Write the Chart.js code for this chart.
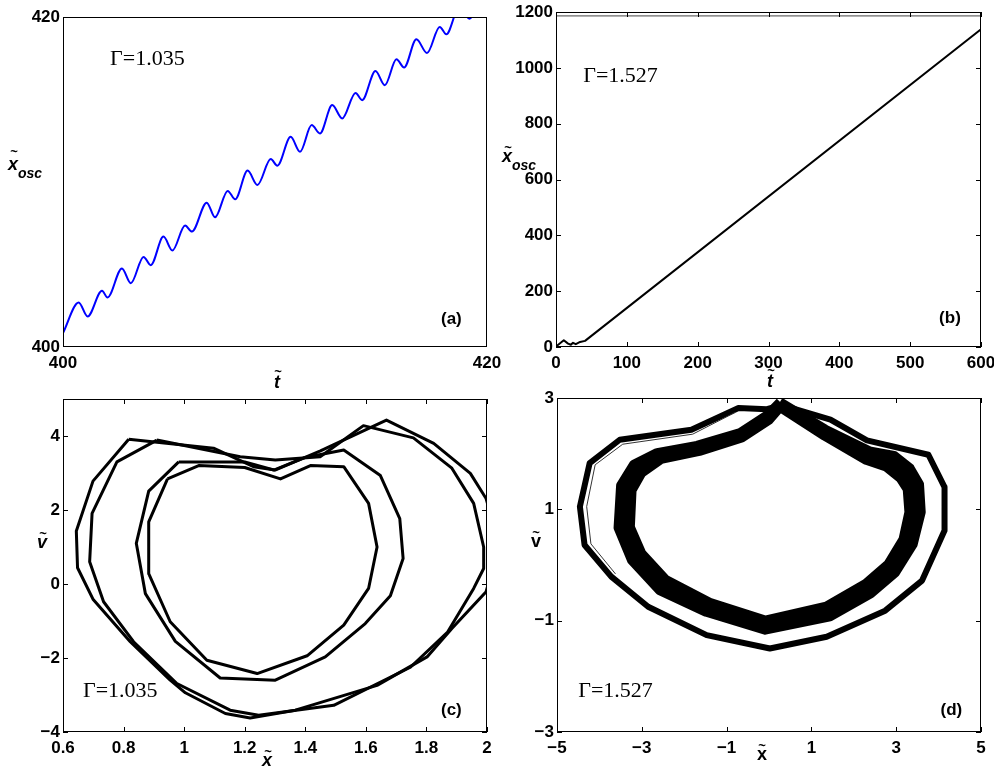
<!DOCTYPE html>
<html>
<head>
<meta charset="utf-8">
<script src="https://cdn.jsdelivr.net/npm/chart.js@4.4.0/dist/chart.umd.min.js"></script>
<style>
    body { margin: 0; background: #fff; width: 994px; height: 769px; overflow: hidden; position: relative; }
    canvas { position: absolute; }
</style>
</head>
<body>
<canvas id="pa"></canvas>
<canvas id="pb"></canvas>
<canvas id="pc"></canvas>
<canvas id="pd"></canvas>
<script>
// (a) x_osc against t, Gamma = 1.035
const timeA = [400.00, 400.74, 401.16, 401.84, 402.10, 402.78, 403.20, 403.80, 404.14, 404.74, 405.16, 405.76, 406.08,
    406.78, 407.17, 407.77, 408.12, 408.71, 409.17, 409.80, 410.11, 410.74, 411.18, 411.73, 412.12, 412.70, 413.17,
    413.80, 414.11, 414.74, 415.18, 415.73, 416.09, 416.67, 417.17, 417.77, 418.08, 418.70, 419.17, 419.70];
const xoscA = [400.85, 402.70, 401.85, 403.41, 403.00, 404.76, 403.87, 405.46, 404.96, 406.69, 405.85, 407.36, 407.00,
    408.75, 407.86, 409.46, 408.95, 410.69, 409.82, 411.39, 410.99, 412.74, 411.83, 413.45, 412.94, 414.66, 413.85,
    415.40, 414.96, 416.73, 415.87, 417.44, 416.94, 418.65, 417.82, 419.40, 418.95, 420.62, 419.90, 421.30];
const ticksA = [400, 420];

// (b) x_osc against t, Gamma = 1.527
const timeB = [0, 4, 11, 17, 21, 24, 28, 34, 41, 600];
const xoscB = [2, 10, 24, 12, 8, 15, 10, 18, 22, 1138];
const ceilTimeB = [0, 600];
const ceilXoscB = [1186, 1186];
const ticksBx = [0, 100, 200, 300, 400, 500, 600];
const ticksBy = [0, 200, 400, 600, 800, 1000, 1200];

// (c) phase portrait, Gamma = 1.035
const loopC1x = [0.817, 0.699, 0.644, 0.648, 0.699, 0.822, 0.954, 1.004, 1.136, 1.218, 1.367, 1.637, 1.802, 1.884, 1.997, 2.040, 1.997, 1.945, 1.824, 1.668, 1.450, 1.300, 1.229, 1.097, 0.817];
const loopC1v = [3.91, 2.78, 1.43, 0.44, -0.41, -1.56, -2.60, -2.94, -3.50, -3.62, -3.41, -2.74, -1.97, -1.20, -0.21, 1.05, 2.31, 2.99, 3.80, 4.43, 3.60, 3.08, 3.17, 3.67, 3.91];
const loopC2x = [0.910, 0.778, 0.696, 0.688, 0.734, 0.833, 0.976, 1.152, 1.246, 1.494, 1.747, 1.870, 1.956, 1.989, 1.989, 1.956, 1.884, 1.757, 1.592, 1.449, 1.301, 1.185, 0.910];
const loopC2v = [3.89, 3.30, 1.91, 0.60, -0.48, -1.56, -2.69, -3.41, -3.55, -3.28, -2.25, -1.30, -0.12, 0.42, 1.00, 2.18, 3.13, 3.95, 4.28, 3.44, 3.35, 3.44, 3.89];
const loopC3x = [0.982, 0.883, 0.842, 0.872, 0.971, 1.119, 1.301, 1.466, 1.598, 1.681, 1.723, 1.712, 1.648, 1.527, 1.400, 1.296, 1.200, 0.982];
const loopC3v = [3.30, 2.51, 1.10, -0.26, -1.55, -2.54, -2.60, -1.97, -1.07, -0.32, 0.69, 1.77, 2.93, 3.62, 3.42, 3.08, 3.30, 3.30];
const loopC4x = [0.945, 0.883, 0.883, 0.954, 1.075, 1.241, 1.406, 1.527, 1.609, 1.637, 1.609, 1.527, 1.417, 1.318, 1.200, 1.048, 0.945];
const loopC4v = [2.84, 1.68, 0.28, -1.02, -2.06, -2.42, -1.94, -1.11, -0.12, 1.00, 2.18, 3.17, 3.20, 2.84, 3.15, 3.20, 2.84];
const ticksCx = [0.6, 0.8, 1, 1.2, 1.4, 1.6, 1.8, 2];
const ticksCy = [-4, -2, 0, 2, 4];

// (d) phase portrait, Gamma = 1.527
const loopD1x = [0.30, 1.45, 2.31, 3.76, 4.14, 4.14, 3.61, 2.74, 1.36, 0.02, -1.47, -2.85, -3.72, -4.35, -4.46, -4.23, -3.52, -1.83, -0.72, -0.05, 0.30];
const loopD1v = [2.87, 2.61, 2.24, 1.98, 1.40, 0.62, -0.28, -0.82, -1.29, -1.50, -1.26, -0.75, -0.21, 0.36, 1.05, 1.83, 2.25, 2.43, 2.82, 2.80, 2.87];
const strayD1x = [-0.80, -1.80, -3.45, -4.10, -4.30, -4.20, -3.62];
const strayD1v = [2.74, 2.35, 2.17, 1.80, 1.05, 0.38, -0.16];
const bandOutX = [0.26, 1.33, 2.37, 2.95, 3.33, 3.55, 3.59, 3.40, 2.98, 2.40, 1.44, -0.09, -1.48, -2.58, -3.24, -3.56, -3.50, -3.19, -2.64, -1.70, -0.68, -0.02, 0.26];
const bandOutV = [2.93, 2.44, 2.05, 1.97, 1.74, 1.45, 0.95, 0.37, -0.14, -0.52, -0.93, -1.17, -0.85, -0.46, 0.08, 0.67, 1.43, 1.81, 2.02, 2.15, 2.38, 2.71, 2.93];
const bandMidX = [0.26, 1.33, 2.34, 2.86, 3.21, 3.41, 3.45, 3.28, 2.90, 2.34, 1.40, -0.09, -1.44, -2.51, -3.12, -3.42, -3.37, -3.10, -2.59, -1.67, -0.66, -0.01, 0.26];
const bandMidV = [2.88, 2.38, 1.98, 1.87, 1.65, 1.41, 0.95, 0.42, -0.06, -0.43, -0.84, -1.08, -0.76, -0.36, 0.15, 0.68, 1.39, 1.73, 1.96, 2.10, 2.33, 2.66, 2.88];
const bandInX = [0.26, 1.30, 2.29, 2.76, 3.09, 3.26, 3.30, 3.16, 2.81, 2.28, 1.35, -0.09, -1.40, -2.43, -3.00, -3.27, -3.23, -3.00, -2.54, -1.64, -0.64, 0.00, 0.26];
const bandInV = [2.83, 2.32, 1.88, 1.76, 1.56, 1.36, 0.95, 0.46, 0.02, -0.33, -0.74, -0.99, -0.67, -0.26, 0.21, 0.68, 1.34, 1.65, 1.90, 2.04, 2.28, 2.60, 2.83];
const ticksDx = [-5, -3, -1, 1, 3, 5];
const ticksDy = [-3, -1, 1, 3];

const SANS = '"Liberation Sans", Arial, Helvetica, sans-serif';
const SERIF = '"Liberation Serif", "Times New Roman", serif';
Chart.defaults.color = '#000';
Chart.defaults.font.family = SANS;

const pts = (xs, ys) => xs.map((x, i) => ({ x: x, y: ys[i] }));
const fmt = v => String(Math.round(v * 100) / 100).replace('-', '\u2212');

function line(xs, ys, color, width, extra) {
    return Object.assign({
        data: pts(xs, ys), showLine: true, pointRadius: 0, borderColor: color,
        borderWidth: width, fill: false, clip: 0, borderJoinStyle: 'round'
    }, extra || {});
}

// letter with a tilde above it, optionally followed by a subscript
function accentLabel(ctx, t, x, y) {
    ctx.textBaseline = 'alphabetic';
    ctx.font = t.font;
    let w = ctx.measureText(t.text).width;
    let left = t.center ? x - w / 2 : x;
    ctx.textAlign = 'left';
    ctx.fillText(t.text, left, y);
    ctx.font = 'bold 13px ' + SANS;
    ctx.textAlign = 'center';
    ctx.textBaseline = 'middle';
    ctx.fillText('~', left + w / 2 + (t.slant || 0), y - t.tOff);
    if (t.sub) {
        ctx.font = t.subFont;
        ctx.textAlign = 'left';
        ctx.textBaseline = 'alphabetic';
        ctx.fillText(t.sub, left + w, y + t.subDy);
    }
}

const decoPlugin = {
    id: 'deco',
    afterDraw(chart, args, o) {
        const ctx = chart.ctx, a = chart.chartArea;
        ctx.save();
        ctx.strokeStyle = '#000';
        ctx.lineWidth = 1;
        ctx.strokeRect(a.left + 0.5, a.top + 0.5, a.width - 1, a.height - 1);

        if (o.inTicks) {
            const len = 5;
            ctx.beginPath();
            chart.scales.x.ticks.forEach(t => {
                const px = Math.round(chart.scales.x.getPixelForValue(t.value)) + 0.5;
                ctx.moveTo(px, a.bottom); ctx.lineTo(px, a.bottom - len);
                ctx.moveTo(px, a.top); ctx.lineTo(px, a.top + len);
            });
            chart.scales.y.ticks.forEach(t => {
                const py = Math.round(chart.scales.y.getPixelForValue(t.value)) + 0.5;
                ctx.moveTo(a.left, py); ctx.lineTo(a.left + len, py);
                ctx.moveTo(a.right, py); ctx.lineTo(a.right - len, py);
            });
            ctx.stroke();
        }

        ctx.fillStyle = '#000';
        (o.notes || []).forEach(n => {
            ctx.font = n.font;
            ctx.textAlign = n.align || 'left';
            ctx.textBaseline = n.base || 'alphabetic';
            ctx.fillText(n.text, a.left + n.fx * a.width, a.top + n.fy * a.height);
        });
        (o.titles || []).forEach(t => accentLabel(ctx, t, a.left + t.dx, a.top + t.dy));
        ctx.restore();
    }
};

function axis(vals, min, max, dir, size) {
    return {
        type: 'linear', min: min, max: max,
        grid: { display: false, drawTicks: false },
        border: { display: false },
        afterBuildTicks: sc => { sc.ticks = vals.map(v => ({ value: v })); },
        afterFit: sc => {
            if (dir === 'x') { sc.height = size; sc.paddingLeft = 0; sc.paddingRight = 0; }
            else { sc.width = size; sc.paddingTop = 0; sc.paddingBottom = 0; }
        },
        ticks: {
            autoSkip: false, maxRotation: 0, padding: dir === 'x' ? 6 : 3,
            font: { family: SANS, size: 17, weight: 'bold' },
            callback: v => fmt(v)
        }
    };
}

function panel(id, area, xAxis, yAxis, datasets, deco) {
    const [L, T, R, B] = area;
    const padL = 60, padT = 12, padR = 14, padB = 48;
    const cv = document.getElementById(id);
    cv.width = R - L + padL + padR;
    cv.height = B - T + padT + padB;
    cv.style.left = (L - padL) + 'px';
    cv.style.top = (T - padT) + 'px';
    return new Chart(cv, {
        type: 'scatter',
        data: { datasets: datasets },
        options: {
            responsive: false, animation: false, events: [],
            layout: { padding: { left: 0, top: padT, right: padR, bottom: padB - 30 } },
            plugins: { legend: { display: false }, tooltip: { enabled: false }, deco: deco },
            scales: {
                x: axis(xAxis.ticks, xAxis.min, xAxis.max, 'x', 30),
                y: axis(yAxis.ticks, yAxis.min, yAxis.max, 'y', padL)
            }
        },
        plugins: [decoPlugin]
    });
}

const gammaFont = '22px ' + SERIF;
const tagFont = 'bold 17px ' + SANS;
const titleIt = 'bold italic 18px ' + SANS;
const titleUp = 'bold 18px ' + SANS;
const subIt = 'bold italic 14px ' + SANS;

panel('pa', [63, 17, 487, 347],
    { ticks: ticksA, min: 400, max: 420 }, { ticks: ticksA, min: 400, max: 420 },
    [line(timeA, xoscA, '#0000ff', 2, { cubicInterpolationMode: 'monotone' })],
    {
        inTicks: false,
        notes: [
            { text: '\u0393=1.035', font: gammaFont, fx: 0.111, fy: 0.145 },
            { text: '(a)', font: tagFont, fx: 0.916, fy: 0.915, align: 'center', base: 'middle' }
        ],
        titles: [
            { text: 'x', font: titleIt, dx: -55, dy: 153, tOff: 18, slant: 1, sub: 'osc', subFont: subIt, subDy: 8 },
            { text: 't', font: titleIt, dx: 214, dy: 371, tOff: 16, center: true, slant: 1 }
        ]
    });

panel('pb', [556, 12, 981, 347],
    { ticks: ticksBx, min: 0, max: 600 }, { ticks: ticksBy, min: 0, max: 1200 },
    [
        line(timeB, xoscB, '#000', 2),
        line(ceilTimeB, ceilXoscB, '#444', 1)
    ],
    {
        inTicks: true,
        notes: [
            { text: '\u0393=1.527', font: gammaFont, fx: 0.064, fy: 0.209 },
            { text: '(b)', font: tagFont, fx: 0.927, fy: 0.913, align: 'center', base: 'middle' }
        ],
        titles: [
            { text: 'x', font: titleIt, dx: -54, dy: 150, tOff: 14, slant: 1, sub: 'osc', subFont: subIt, subDy: 8 },
            { text: 't', font: titleIt, dx: 214, dy: 375, tOff: 16, center: true, slant: 1 }
        ]
    });

panel('pc', [63, 399, 487, 732],
    { ticks: ticksCx, min: 0.6, max: 2 }, { ticks: ticksCy, min: -4, max: 5 },
    [
        line(loopC1x, loopC1v, '#000', 3),
        line(loopC2x, loopC2v, '#000', 3),
        line(loopC3x, loopC3v, '#000', 3),
        line(loopC4x, loopC4v, '#000', 3)
    ],
    {
        inTicks: true,
        notes: [
            { text: '\u0393=1.035', font: gammaFont, fx: 0.047, fy: 0.895 },
            { text: '(c)', font: tagFont, fx: 0.916, fy: 0.934, align: 'center', base: 'middle' }
        ],
        titles: [
            { text: 'v', font: titleIt, dx: -26, dy: 149, tOff: 14, slant: 1 },
            { text: 'x', font: titleIt, dx: 204, dy: 367, tOff: 14, center: true, slant: 1 }
        ]
    });

panel('pd', [557, 398, 981, 732],
    { ticks: ticksDx, min: -5, max: 5 }, { ticks: ticksDy, min: -3, max: 3 },
    [
        line(bandOutX, bandOutV, '#000', 9),
        line(bandMidX, bandMidV, '#000', 9),
        line(bandInX, bandInV, '#000', 9),
        line(strayD1x, strayD1v, '#333', 1),
        line(loopD1x, loopD1v, '#000', 6)
    ],
    {
        inTicks: true,
        notes: [
            { text: '\u0393=1.527', font: gammaFont, fx: 0.050, fy: 0.895 },
            { text: '(d)', font: tagFont, fx: 0.930, fy: 0.934, align: 'center', base: 'middle' }
        ],
        titles: [
            { text: 'v', font: titleUp, dx: -26, dy: 149, tOff: 14 },
            { text: 'x', font: titleUp, dx: 205, dy: 362, tOff: 14, center: true }
        ]
    });
</script>
</body>
</html>
